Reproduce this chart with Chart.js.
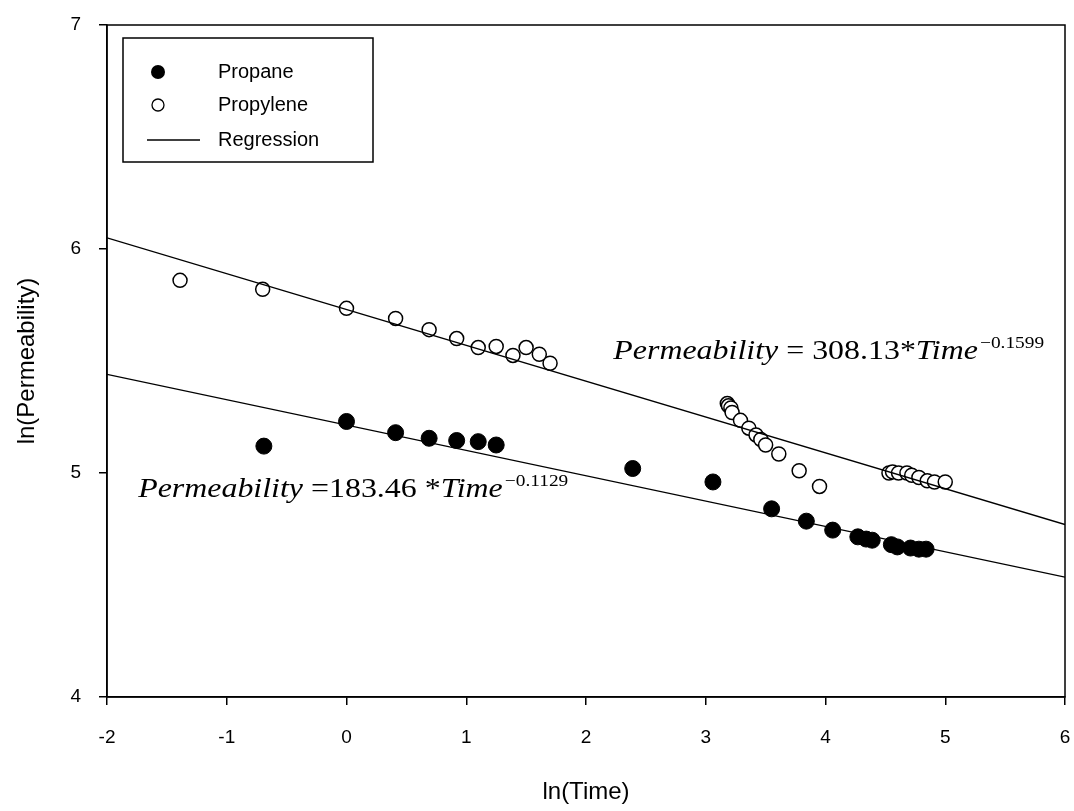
<!DOCTYPE html>
<html>
<head>
<meta charset="utf-8">
<script src="https://cdn.jsdelivr.net/npm/chart.js@4/dist/chart.umd.min.js"></script>
<style>
  html, body { margin: 0; padding: 0; background: #fff; }
  #wrap { width: 1074px; height: 811px; }
</style>
</head>
<body>
<div id="wrap"><canvas id="grafico" width="1074" height="811"></canvas></div>
<script>
// dados
const propanoX = [-0.69, 0, 0.41, 0.69, 0.92, 1.10, 1.25, 2.39, 3.06, 3.55, 3.84, 4.06, 4.27, 4.34, 4.39, 4.55, 4.60, 4.71, 4.78, 4.84];
const propanoY = [5.12, 5.23, 5.18, 5.155, 5.145, 5.14, 5.125, 5.02, 4.96, 4.84, 4.785, 4.745, 4.715, 4.705, 4.70, 4.68, 4.67, 4.665, 4.66, 4.66];

const propilenoX = [-1.39, -0.70, 0, 0.41, 0.69, 0.92, 1.10, 1.25, 1.39, 1.50, 1.61, 1.70,
  3.18, 3.19, 3.21, 3.22, 3.29, 3.36, 3.42, 3.46, 3.50, 3.61, 3.78, 3.95,
  4.53, 4.56, 4.61, 4.68, 4.72, 4.78, 4.85, 4.91, 5.00];
const propilenoY = [5.86, 5.82, 5.735, 5.69, 5.64, 5.60, 5.56, 5.565, 5.525, 5.56, 5.53, 5.49,
  5.31, 5.30, 5.29, 5.27, 5.235, 5.20, 5.17, 5.15, 5.125, 5.085, 5.01, 4.94,
  5.0, 5.005, 5.0, 5.0, 4.99, 4.98, 4.965, 4.96, 4.96];

// extremos das retas de regressao
const regPropilenoX = [-2, 6];
const regPropilenoY = [6.05, 4.77];
const regPropanoX = [-2, 6];
const regPropanoY = [5.44, 4.535];

const ticksX = [-2, -1, 0, 1, 2, 3, 4, 5, 6];
const ticksY = [4, 5, 6, 7];

const legendas = ['Propane', 'Propylene', 'Regression'];
const equacoes = [
  { x: 2.228, y: 5.509, coef: '308.13', exp: '\u22120.1599', sep: ' = ' },
  { x: -1.74, y: 4.893, coef: '183.46 ', exp: '\u22120.1129', sep: ' =' }
];

const pares = (xs, ys) => xs.map((x, i) => ({ x: x, y: ys[i] }));

// escreve texto esticado na horizontal (fonte antiga do Windows e mais larga)
function textoLargo(ctx, txt, x, y, fonte, esc) {
  ctx.save();
  ctx.font = fonte;
  ctx.translate(x, y);
  ctx.scale(esc, 1);
  ctx.fillText(txt, 0, 0);
  const w = ctx.measureText(txt).width * esc;
  ctx.restore();
  return w;
}

const pluginExtras = {
  id: 'extras',
  afterDraw(chart) {
    const ctx = chart.ctx;
    const a = chart.chartArea;
    const sx = chart.scales.x, sy = chart.scales.y;
    ctx.save();
    // moldura
    ctx.strokeStyle = '#000';
    ctx.lineWidth = 1.5;
    ctx.strokeRect(a.left, a.top, a.right - a.left, a.bottom - a.top);

    // equacoes
    ctx.fillStyle = '#000';
    ctx.textBaseline = 'alphabetic';
    equacoes.forEach(eq => {
      let px = sx.getPixelForValue(eq.x);
      const py = sy.getPixelForValue(eq.y);
      const partes = [
        ['italic 28px "Liberation Serif"', 'Permeability'],
        ['28px "Liberation Serif"', eq.sep + eq.coef + '*'],
        ['italic 28px "Liberation Serif"', 'Time']
      ];
      partes.forEach(p => {
        px += textoLargo(ctx, p[1], px, py, p[0], 1.14);
      });
      textoLargo(ctx, eq.exp, px + 2, py - 11, '17px "Liberation Serif"', 1.14);
    });

    // legenda
    const lx = a.left + 16, ly = a.top + 13, lw = 250, lh = 124;
    ctx.lineWidth = 1.5;
    ctx.strokeRect(lx, ly, lw, lh);
    ctx.font = '20px "Liberation Sans"';
    ctx.textBaseline = 'middle';
    const yy = [ly + 34, ly + 67, ly + 102];
    ctx.beginPath();
    ctx.arc(lx + 35, yy[0], 7, 0, Math.PI * 2);
    ctx.fill();
    ctx.beginPath();
    ctx.arc(lx + 35, yy[1], 6, 0, Math.PI * 2);
    ctx.lineWidth = 1.3;
    ctx.stroke();
    ctx.beginPath();
    ctx.moveTo(lx + 24, yy[2]);
    ctx.lineTo(lx + 77, yy[2]);
    ctx.lineWidth = 1.3;
    ctx.stroke();
    legendas.forEach((t, i) => ctx.fillText(t, lx + 95, yy[i]));
    ctx.restore();
  }
};

const ctxGrafico = document.getElementById('grafico').getContext('2d');
new Chart(ctxGrafico, {
  type: 'scatter',
  data: {
    datasets: [
      {
        label: 'Regression',
        data: pares(regPropilenoX, regPropilenoY),
        showLine: true,
        borderColor: '#000',
        borderWidth: 1.3,
        pointRadius: 0,
        fill: false
      },
      {
        label: 'Regression',
        data: pares(regPropanoX, regPropanoY),
        showLine: true,
        borderColor: '#000',
        borderWidth: 1.3,
        pointRadius: 0,
        fill: false
      },
      {
        label: 'Propane',
        data: pares(propanoX, propanoY),
        backgroundColor: '#000',
        borderColor: '#000',
        borderWidth: 1,
        pointRadius: 8
      },
      {
        label: 'Propylene',
        data: pares(propilenoX, propilenoY),
        backgroundColor: '#fff',
        borderColor: '#000',
        borderWidth: 1.5,
        pointRadius: 7
      }
    ]
  },
  options: {
    responsive: false,
    animation: false,
    layout: { padding: { top: 25, right: 8, left: 0, bottom: 0 } },
    plugins: { legend: { display: false }, tooltip: { enabled: false } },
    scales: {
      x: {
        type: 'linear',
        min: -2, max: 6,
        afterBuildTicks: s => { s.ticks = ticksX.map(v => ({ value: v })); },
        afterFit: s => { s.height = 114; s.paddingLeft = 0; s.paddingRight = 0; },
        grid: { drawOnChartArea: false, drawTicks: true, tickLength: 8, color: '#000', lineWidth: 1.5 },
        border: { display: true, color: '#000', width: 1.5 },
        ticks: { color: '#000', font: { family: 'Liberation Sans', size: 19 }, padding: 21 },
        title: { display: true, text: 'ln(Time)', color: '#000', font: { family: 'Liberation Sans', size: 24 }, padding: { top: 11 } }
      },
      y: {
        type: 'linear',
        min: 4, max: 7,
        afterBuildTicks: s => { s.ticks = ticksY.map(v => ({ value: v })); },
        afterFit: s => { s.width = 107; s.paddingTop = 0; s.paddingBottom = 0; },
        grid: { drawOnChartArea: false, drawTicks: true, tickLength: 8, color: '#000', lineWidth: 1.5 },
        border: { display: true, color: '#000', width: 1.5 },
        ticks: { color: '#000', font: { family: 'Liberation Sans', size: 19 }, padding: 18 },
        title: { display: true, text: 'ln(Permeability)', color: '#000', font: { family: 'Liberation Sans', size: 24 }, padding: { top: 13 } }
      }
    }
  },
  plugins: [pluginExtras]
});
</script>
</body>
</html>
